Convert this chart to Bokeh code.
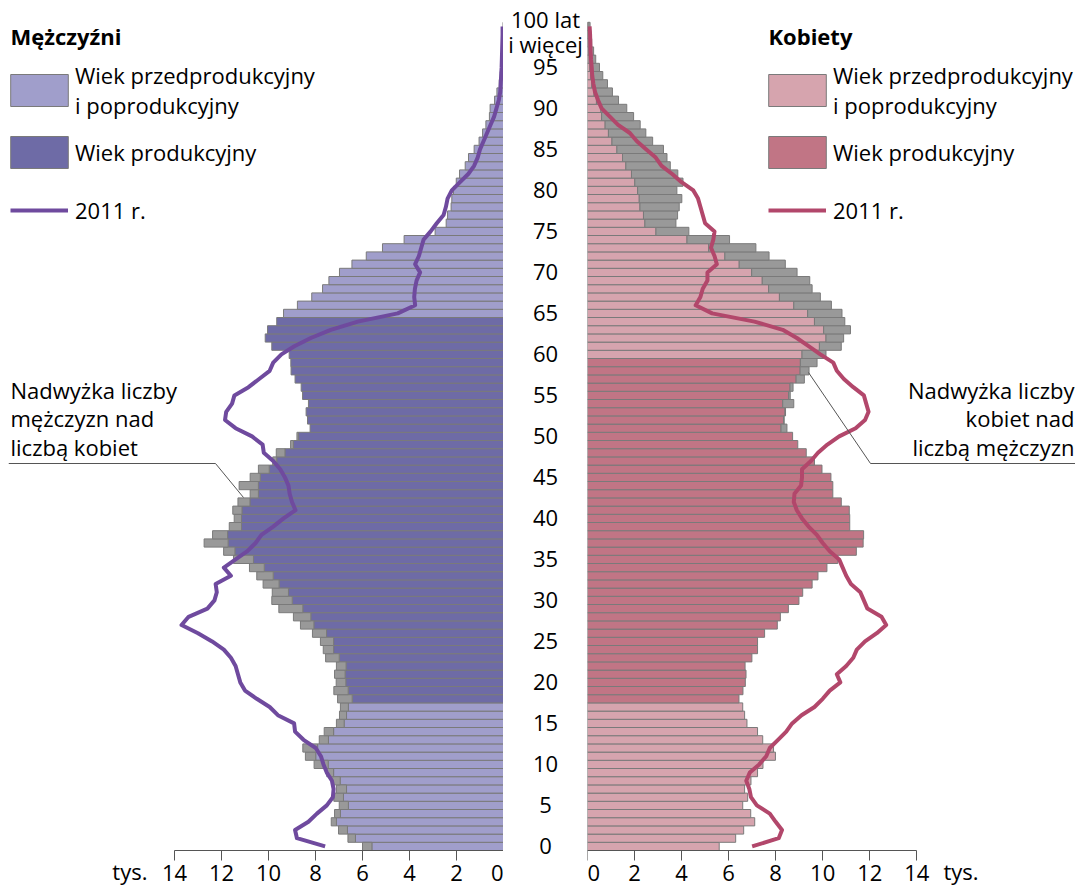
from bokeh.plotting import figure
from bokeh.layouts import row
from bokeh.models import ColumnDataSource, Range1d, FixedTicker, Label, Legend, LegendItem
from bokeh.embed import file_html
from bokeh.resources import INLINE
from bokeh.core.properties import value
import numpy as np

# ---------------- data (thousands of people) ----------------
ages = list(range(101))
men = [6.00, 6.62, 7.02, 7.33, 7.19, 6.99, 7.22, 7.11, 7.32, 7.52,
       8.06, 8.43, 8.54, 7.84, 7.63, 7.11, 6.98, 6.94, 7.06, 7.22,
       7.12, 7.19, 7.11, 7.57, 7.67, 7.79, 8.13, 8.64, 8.94, 9.56,
       9.86, 9.84, 10.23, 10.50, 10.81, 11.49, 11.91, 12.74, 12.38, 11.67,
       11.46, 11.52, 11.30, 10.78, 11.25, 10.78, 10.43, 9.82, 9.67, 9.06,
       8.79, 8.23, 8.34, 8.40, 8.30, 8.55, 8.61, 8.87, 9.04, 9.05,
       9.12, 9.86, 10.14, 10.04, 9.65, 9.36, 8.77, 8.16, 7.70, 7.43,
       6.98, 6.45, 5.84, 5.15, 4.23, 2.91, 2.44, 2.38, 2.23, 2.20,
       2.13, 2.01, 1.87, 1.63, 1.49, 1.25, 1.04, 0.89, 0.75, 0.60,
       0.57, 0.38, 0.28, 0.18, 0.14, 0.10, 0.07, 0.05, 0.03, 0.02, 0.02]
women = [5.60, 6.30, 6.64, 7.11, 6.94, 6.60, 6.81, 6.68, 6.95, 7.23,
         7.46, 7.99, 7.91, 7.45, 7.23, 6.78, 6.68, 6.60, 6.44, 6.61,
         6.71, 6.74, 6.70, 6.99, 7.23, 7.23, 7.53, 8.07, 8.20, 8.54,
         8.99, 9.15, 9.55, 9.80, 10.18, 10.64, 11.43, 11.72, 11.74, 11.15,
         11.15, 11.13, 10.79, 10.43, 10.43, 10.35, 9.97, 9.65, 9.30, 8.94,
         8.72, 8.48, 8.36, 8.42, 8.77, 8.62, 8.74, 9.22, 9.42, 9.76,
         10.14, 10.79, 10.89, 11.18, 10.94, 10.82, 10.37, 9.90, 9.55, 9.45,
         8.91, 8.41, 7.72, 7.16, 6.04, 4.31, 3.76, 3.83, 3.90, 4.01,
         3.80, 4.06, 3.84, 3.52, 3.38, 3.23, 2.77, 2.48, 2.24, 1.96,
         1.67, 1.32, 1.06, 0.85, 0.65, 0.51, 0.35, 0.26, 0.18, 0.14, 0.11]
men_2011 = [7.59, 8.79, 8.87, 8.30, 7.94, 7.52, 7.26, 7.23, 7.30, 7.52,
            7.66, 7.77, 7.99, 8.51, 8.87, 8.91, 9.60, 9.95, 10.50, 11.00,
            11.20, 11.30, 11.40, 11.60, 11.90, 12.40, 13.00, 13.70, 13.40, 12.60,
            12.30, 12.20, 12.25, 11.60, 11.90, 11.40, 10.90, 10.55, 10.30, 9.80,
            9.36, 8.85, 9.00, 9.10, 9.15, 9.30, 9.50, 9.80, 10.20, 10.25,
            10.70, 11.40, 11.85, 11.80, 11.55, 11.45, 10.85, 10.40, 9.95, 9.80,
            9.45, 8.90, 8.20, 7.35, 6.20, 4.50, 3.76, 3.80, 3.77, 3.70,
            3.55, 3.76, 3.60, 3.50, 3.40, 3.10, 2.84, 2.55, 2.45, 2.38,
            2.20, 1.85, 1.50, 1.25, 1.10, 1.00, 0.85, 0.70, 0.55, 0.40,
            0.30, 0.20, 0.14, 0.12, 0.10, 0.08, 0.07, 0.06, 0.05, 0.04, 0.04]
women_2011 = [7.00, 8.13, 8.27, 8.00, 7.75, 7.20, 6.95, 6.88, 6.75, 6.90,
              7.30, 7.60, 7.75, 8.10, 8.45, 8.70, 9.10, 9.65, 10.00, 10.30,
              10.75, 10.60, 11.00, 11.30, 11.45, 11.80, 12.30, 12.70, 12.50, 11.90,
              11.75, 11.60, 11.20, 11.00, 10.85, 10.70, 10.30, 10.00, 9.75, 9.40,
              9.12, 8.90, 8.77, 8.80, 9.08, 9.12, 9.12, 9.50, 9.80, 10.20,
              10.70, 11.40, 11.80, 11.95, 11.85, 11.75, 11.30, 10.90, 10.60, 10.45,
              9.90, 9.40, 8.90, 8.30, 7.10, 5.30, 4.60, 4.80, 4.90, 5.10,
              5.10, 5.50, 5.40, 5.25, 5.35, 5.40, 5.00, 4.90, 4.80, 4.70,
              4.50, 4.00, 3.60, 3.15, 2.90, 2.50, 2.10, 1.80, 1.30, 0.95,
              0.60, 0.45, 0.32, 0.25, 0.20, 0.18, 0.15, 0.13, 0.12, 0.11, 0.09]
age_ticks = [0, 5, 10, 15, 20, 25, 30, 35, 40, 45, 50, 55, 60, 65, 70, 75, 80, 85, 90, 95]
age_top_tick = 100
age_top_label = "100 lat\ni więcej"
x_ticks = [0, 2, 4, 6, 8, 10, 12, 14]
unit_label = "tys."
men_prod_ages = (18, 64)
women_prod_ages = (18, 59)

# ---------------- styling ----------------
FONT = "Open Sans"
FS = "22px"
M_LIGHT, M_DARK = "#a09ecb", "#6e6ba6"
W_LIGHT, W_DARK = "#d6a4ae", "#c17585"
GRAY = "#999999"
EDGE = "#7a7a7a"
M_LINE, W_LINE = "#6f4a9e", "#b2476b"

PXM, PXW, PXY = 23.5, 23.52, 8.2
TOP = 8
FRAME_H = 878
FRAME_BOTTOM = TOP + FRAME_H
AGE0_Y = 845.9          # screen y of the centre of age 0
W_M, W_C, W_W = 495, 84, 488
y_rng = Range1d((AGE0_Y - FRAME_BOTTOM) / PXY, (AGE0_Y - TOP) / PXY)


# screen-position helpers for annotation placement
def sy(y):
    return (AGE0_Y - y) / PXY


def mx(x):
    return (503 - x) / PXM


def wx(x):
    return (x - 587) / PXW


age_arr = np.array(ages)
m_arr, w_arr = np.array(men), np.array(women)
common = np.minimum(m_arr, w_arr)


def base_fig(width, x_rng, left_border=0, with_axis=True):
    p = figure(frame_width=width, frame_height=FRAME_H, x_range=x_rng, y_range=y_rng,
               output_backend="svg", toolbar_location=None, y_axis_location=None,
               x_axis_location="below" if with_axis else None,
               min_border_left=left_border, min_border_right=0, min_border_top=TOP,
               min_border_bottom=0)
    p.outline_line_color = None
    p.grid.visible = False
    return p


def make_side(total, prod, light, dark, line_vals, line_col, x_rng, width, left_border):
    p = base_fig(width, x_rng, left_border)
    is_prod = (age_arr >= prod[0]) & (age_arr <= prod[1])
    cols = np.where(is_prod, dark, light)
    src = ColumnDataSource(dict(y=ages, right=common, color=list(cols)))
    r_col = p.hbar(y="y", left=0, right="right", height=1.0, fill_color="color",
                   line_color=EDGE, line_width=1, source=src)
    mask = total > common + 0.005
    gsrc = ColumnDataSource(dict(y=age_arr[mask], left=common[mask], right=total[mask]))
    p.hbar(y="y", left="left", right="right", height=1.0, fill_color=GRAY,
           line_color=EDGE, line_width=1, source=gsrc)
    r_line = p.line(line_vals, ages, line_color=line_col, line_width=4, line_join="round")
    ax = p.xaxis[0]
    ax.ticker = FixedTicker(ticks=x_ticks)
    ax.bounds = (min(x_ticks), max(x_ticks))
    ax.fixed_location = -0.5
    ax.major_tick_out = 10
    ax.major_tick_in = 0
    ax.minor_tick_out = 0
    ax.minor_tick_in = 0
    ax.major_label_standoff = 4
    ax.axis_line_color = "#555555"
    ax.major_tick_line_color = "#555555"
    ax.major_label_text_font = FONT
    ax.major_label_text_font_size = FS
    ax.major_label_text_color = "black"
    return p, r_col, r_line


def add_legend(p, label, rend, idx, xloc, yloc, gw, gh, standoff):
    it = LegendItem(label=label, renderers=[rend]) if idx is None else \
        LegendItem(label=label, renderers=[rend], index=idx)
    lg = Legend(items=[it], location=(xloc, yloc), glyph_width=gw, glyph_height=gh,
                label_text_font=FONT, label_text_font_size=FS, label_standoff=standoff,
                label_text_line_height=1.02, label_text_color="black",
                border_line_color=None, background_fill_alpha=0, padding=0, margin=0)
    p.add_layout(lg)


def add_legends(p, r_col, r_line, frame_left, box_left):
    # area glyphs are drawn with a 10% inset, so the glyph area is 72x40 for a 58x32 box
    gx = box_left - 7 - frame_left
    add_legend(p, "Wiek przedprodukcyjny\ni poprodukcyjny", r_col, 0, gx, 766, 72, 40, 0)
    add_legend(p, "Wiek produkcyjny", r_col, 30, gx, 714, 72, 40, 0)
    add_legend(p, "2011 r.", r_line, None, box_left - frame_left, 660, 58, 32, 7)


def lab(p, x, y, text, align="left", bold=False):
    p.add_layout(Label(x=x, y=y, text=text, text_align=align, text_baseline="middle",
                       text_font=FONT, text_font_size=FS,
                       text_font_style="bold" if bold else "normal", text_color="black"))


# men
pm, m_col, m_line = make_side(m_arr, men_prod_ages, M_LIGHT, M_DARK, men_2011, M_LINE,
                              Range1d(W_M / PXM, 0), W_M, 8)
add_legends(pm, m_col, m_line, 8, 10)
lab(pm, mx(10), sy(35), "Mężczyźni", bold=True)
for t, yy in zip(["Nadwyżka liczby", "mężczyzn nad", "liczbą kobiet"], [389, 417, 446]):
    lab(pm, mx(10), sy(yy), t)
pm.line([mx(8), mx(215), mx(243)], [sy(463), sy(463), sy(497)], line_color="#555555", line_width=1)
lab(pm, mx(147), sy(870), unit_label, align="right")

# women
pw, w_col, w_line = make_side(w_arr, women_prod_ages, W_LIGHT, W_DARK, women_2011, W_LINE,
                              Range1d(0, W_W / PXW), W_W, 0)
add_legends(pw, w_col, w_line, 587, 768)
lab(pw, wx(768), sy(35), "Kobiety", bold=True)
for t, yy in zip(["Nadwyżka liczby", "kobiet nad", "liczbą mężczyzn"], [389, 417, 446]):
    lab(pw, wx(1074), sy(yy), t, align="right")
pw.line([wx(808), wx(870), wx(1075)], [sy(372), sy(463), sy(463)], line_color="#555555", line_width=1)
lab(pw, wx(943), sy(870), unit_label)

# centre age labels
pc = base_fig(W_C, Range1d(-1, 1), with_axis=False)
pc.text(x=[0] * len(age_ticks), y=age_ticks, text=[str(a) for a in age_ticks],
        text_align="center", text_baseline="middle", text_font=value(FONT), text_font_size=FS,
        text_color="black")
pc.text(x=[0], y=[age_top_tick], text=[age_top_label], text_align="center", text_baseline="middle",
        text_font=value(FONT), text_font_size=FS, text_color="black", text_line_height=0.86,
        y_offset=5)

layout = row(pm, pc, pw, spacing=0)
open("out.html", "w").write(file_html(layout, INLINE))
